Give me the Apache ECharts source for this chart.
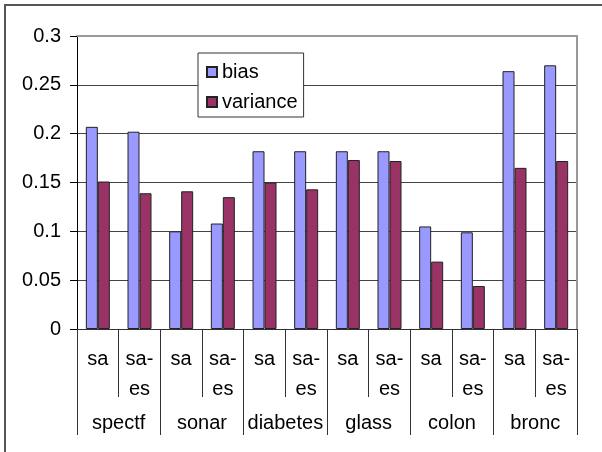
<!DOCTYPE html>
<html>
<head>
<meta charset="utf-8">
<script src="https://cdn.jsdelivr.net/npm/echarts@6/dist/echarts.min.js"></script>
<style>
  html, body { margin: 0; padding: 0; background: #fff; }
  #chart { width: 602px; height: 452px; }
</style>
</head>
<body>
<div id="chart"></div>
<script>
// Datasets and the two methods compared on each
const groups = ['spectf', 'sonar', 'diabetes', 'glass', 'colon', 'bronc'];
const methods = ['sa', 'sa-\nes'];
const categories = groups.flatMap(() => methods);

// Bias / variance per (dataset, method)
const bias = [0.207, 0.202, 0.100, 0.108, 0.182, 0.182, 0.182, 0.182, 0.105, 0.099, 0.264, 0.270];
const variance = [0.151, 0.139, 0.141, 0.135, 0.150, 0.143, 0.173, 0.172, 0.069, 0.044, 0.165, 0.172];

const yTicks = [0, 0.05, 0.1, 0.15, 0.2, 0.25, 0.3];

const FONT = 'Liberation Sans';
const chart = echarts.init(document.getElementById('chart'));

chart.setOption({
  animation: false,
  backgroundColor: '#fff',
  textStyle: { fontFamily: FONT },
  graphic: [{
    type: 'rect',
    shape: { x: 5, y: 5, width: 700, height: 700 },
    style: { fill: 'none', stroke: '#555', lineWidth: 2 },
    silent: true
  }],
  grid: { left: 77, right: 25, top: 36, bottom: 123 },
  legend: {
    data: ['bias', 'variance'],
    orient: 'vertical',
    left: 198, top: 53,
    padding: [9, 6, 5, 8],
    itemGap: 10,
    itemWidth: 10, itemHeight: 10,
    itemTextGap: 6,
    icon: 'rect',
    backgroundColor: '#fff',
    borderColor: '#333',
    borderWidth: 1,
    textStyle: { fontFamily: FONT, fontSize: 20, color: '#000', lineHeight: 20 },
    z: 10
  },
  xAxis: [
    {
      type: 'category',
      data: categories,
      position: 'bottom',
      axisLine: { show: true, lineStyle: { color: '#333', width: 1 } },
      axisTick: { show: true, interval: 0, length: 68, lineStyle: { color: '#333' } },
      axisLabel: {
        interval: 0, margin: 15, color: '#000',
        fontFamily: FONT, fontSize: 20, lineHeight: 30, verticalAlign: 'top'
      },
      splitLine: { show: false }
    },
    {
      type: 'category',
      data: groups,
      position: 'bottom',
      axisLine: { show: true, lineStyle: { color: '#333', width: 1 } },
      axisTick: { show: true, interval: 0, length: 106, lineStyle: { color: '#333' } },
      axisLabel: {
        interval: 0, margin: 84, color: '#000',
        fontFamily: FONT, fontSize: 20, lineHeight: 20, verticalAlign: 'top'
      },
      splitLine: { show: false }
    },
    {
      type: 'category',
      data: groups,
      position: 'top',
      axisLine: { show: true, lineStyle: { color: '#999', width: 2 } },
      axisTick: { show: false },
      axisLabel: { show: false },
      splitLine: { show: false }
    }
  ],
  yAxis: [
    {
      type: 'value',
      min: 0, max: 0.3, interval: 0.05,
      axisLine: { show: true, lineStyle: { color: '#000', width: 1 } },
      axisTick: { show: true, length: 7, lineStyle: { color: '#000' } },
      axisLabel: {
        margin: 16, color: '#000', fontFamily: FONT, fontSize: 20,
        formatter: v => String(yTicks.find(t => Math.abs(t - v) < 1e-9) ?? +v.toFixed(2))
      },
      splitLine: { show: true, lineStyle: { color: '#444', width: 1 } }
    },
    {
      type: 'value',
      position: 'right',
      min: 0, max: 0.3, interval: 0.05,
      axisLine: { show: true, lineStyle: { color: '#999', width: 2 } },
      axisTick: { show: false },
      axisLabel: { show: false },
      splitLine: { show: false }
    }
  ],
  series: [
    {
      name: 'bias', type: 'bar', data: bias,
      xAxisIndex: 0, yAxisIndex: 0,
      barWidth: 12, barGap: '0%',
      itemStyle: { color: '#9999FF', borderColor: '#222', borderWidth: 1 }
    },
    {
      name: 'variance', type: 'bar', data: variance,
      xAxisIndex: 0, yAxisIndex: 0,
      barWidth: 12, barGap: '0%',
      itemStyle: { color: '#993366', borderColor: '#222', borderWidth: 1 }
    }
  ]
});
</script>
</body>
</html>
